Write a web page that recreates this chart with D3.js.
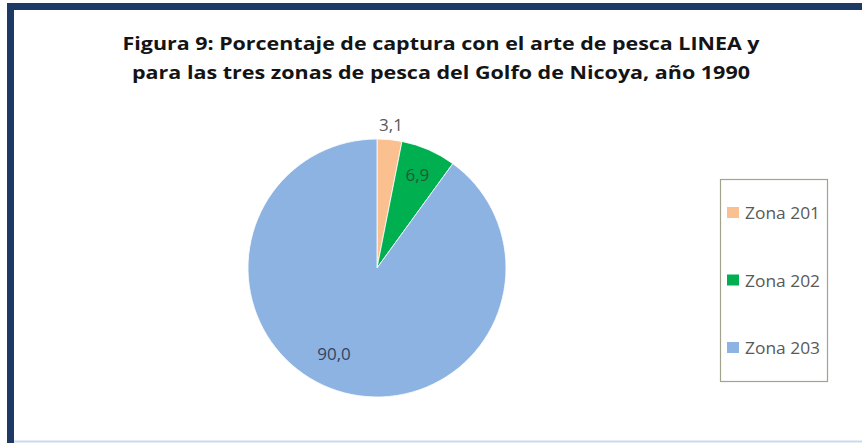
<!DOCTYPE html>
<html>
<head>
<meta charset="utf-8">
<script src="https://cdn.jsdelivr.net/npm/d3@7"></script>
<style>
  body { margin: 0; background: #ffffff; }
  svg { display: block; font-family: "Open Sans", Lato, sans-serif; }
</style>
</head>
<body>
<div id="chart"></div>
<script>
// data
const zonas   = ["Zona 201", "Zona 202", "Zona 203"];
const valores = [3.1, 6.9, 90.0];
const colores = ["#fac090", "#00b050", "#8db3e2"];
const titulo  = ["Figura 9: Porcentaje de captura con el arte de pesca LINEA y",
                 "para las tres zonas de pesca del Golfo de Nicoya, año 1990"];

const W = 862, H = 443;
const cx = 377, cy = 268, R = 129;

const svg = d3.select("#chart").append("svg")
  .attr("width", W).attr("height", H);

// frame
svg.append("rect").attr("x", 0).attr("y", 0).attr("width", W).attr("height", H).attr("fill", "#fff");
svg.append("rect").attr("x", 7).attr("y", 3).attr("width", W - 7).attr("height", 7).attr("fill", "#1c3a63");
svg.append("rect").attr("x", 7).attr("y", 3).attr("width", 7).attr("height", H - 3).attr("fill", "#1c3a63");
svg.append("line").attr("x1", 14).attr("x2", W).attr("y1", 441.5).attr("y2", 441.5)
  .attr("stroke", "#c9dcef").attr("stroke-width", 2);

// title (widths taken from the original)
const anchoTitulo = [637, 618];
svg.append("g").selectAll("text").data(titulo).enter().append("text")
  .attr("x", 441).attr("y", (d, i) => 50 + i * 29)
  .attr("text-anchor", "middle")
  .attr("textLength", (d, i) => anchoTitulo[i])
  .attr("lengthAdjust", "spacingAndGlyphs")
  .style("font-size", "18.5px").style("font-weight", "bold").style("fill", "#141414")
  .text(d => d);

// pie
const datos = zonas.map((z, i) => ({ zona: z, valor: valores[i] }));
const pie = d3.pie().value(d => d.valor).sort(null);
const arcos = pie(datos);
const arc = d3.arc().innerRadius(0).outerRadius(R);
const color = d3.scaleOrdinal().domain(zonas).range(colores);

const g = svg.append("g").attr("transform", `translate(${cx},${cy})`);
g.selectAll("path").data(arcos).enter().append("path")
  .attr("d", arc)
  .attr("fill", d => color(d.data.zona))
  .attr("stroke", "#ffffff").attr("stroke-width", 0.8);

// labels (best-fit style radii)
const labelR = [144, 101, 96];
const angOff = [0, 0, 0.15];
const labelColor = ["#595959", "#1f5a34", "#33445f"];
const fmt = v => d3.format(".1f")(v).replace(".", ",");
g.selectAll("text.lbl").data(arcos).enter().append("text")
  .attr("class", "lbl")
  .attr("x", (d, i) => labelR[i] * Math.sin((d.startAngle + d.endAngle) / 2 + angOff[i]))
  .attr("y", (d, i) => -labelR[i] * Math.cos((d.startAngle + d.endAngle) / 2 + angOff[i]))
  .attr("dy", "0.35em")
  .attr("text-anchor", "middle")
  .style("font-size", "17px")
  .style("fill", (d, i) => labelColor[i])
  .text(d => fmt(d.data.valor));

// legend
const leg = svg.append("g");
leg.append("rect").attr("x", 720.5).attr("y", 179.5).attr("width", 107).attr("height", 202)
  .attr("fill", "#fff").attr("stroke", "#a3a38c").attr("stroke-width", 1.2);
const y = d3.scalePoint().domain(zonas).range([213, 348]);
const item = leg.selectAll("g.item").data(zonas).enter().append("g").attr("class", "item")
  .attr("transform", d => `translate(727,${y(d)})`);
item.append("rect").attr("x", 0).attr("y", -6).attr("width", 12).attr("height", 11)
  .attr("fill", d => color(d));
item.append("text").attr("x", 18).attr("dy", "0.36em")
  .attr("textLength", 75).attr("lengthAdjust", "spacingAndGlyphs")
  .style("font-size", "17px").style("fill", "#595959")
  .text(d => d);
</script>
</body>
</html>
